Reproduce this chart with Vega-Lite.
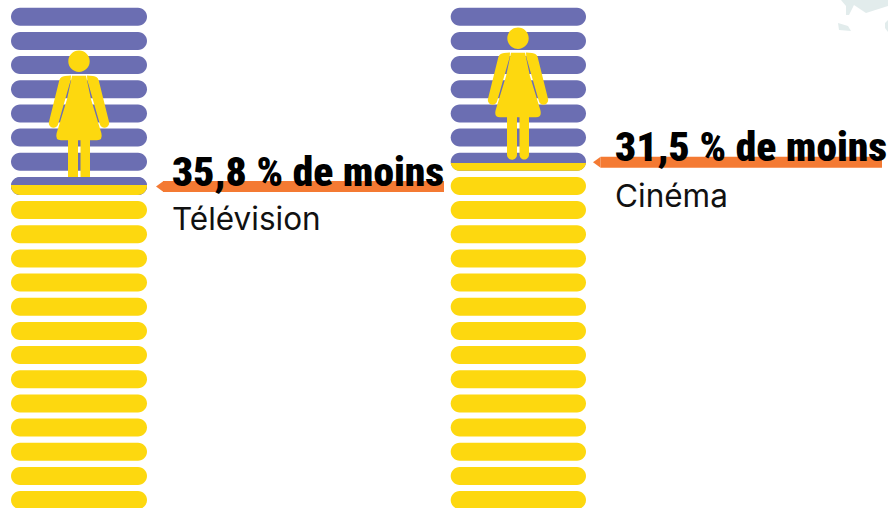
{"$schema":"https://vega.github.io/schema/vega-lite/v6.json","width":888,"height":508,"autosize":"none","padding":0,"background":"white","config":{"view":{"stroke":null}},
"datasets":{"stripes":[
{"media":"Télévision","rang":0,"left":11,"right":147,"top":7.7,"bottom":25.7,"tone":"violet"},{"media":"Télévision","rang":1,"left":11,"right":147,"top":31.9,"bottom":49.9,"tone":"violet"},{"media":"Télévision","rang":2,"left":11,"right":147,"top":56,"bottom":74,"tone":"violet"},{"media":"Télévision","rang":3,"left":11,"right":147,"top":80.2,"bottom":98.2,"tone":"violet"},{"media":"Télévision","rang":4,"left":11,"right":147,"top":104.4,"bottom":122.4,"tone":"violet"},{"media":"Télévision","rang":5,"left":11,"right":147,"top":128.6,"bottom":146.6,"tone":"violet"},{"media":"Télévision","rang":6,"left":11,"right":147,"top":152.7,"bottom":170.7,"tone":"violet"},{"media":"Télévision","rang":7,"left":11,"right":147,"top":176.9,"bottom":194.9,"tone":"violet"},{"media":"Télévision","rang":8,"left":11,"right":147,"top":201.1,"bottom":219.1,"tone":"jaune"},{"media":"Télévision","rang":9,"left":11,"right":147,"top":225.2,"bottom":243.2,"tone":"jaune"},{"media":"Télévision","rang":10,"left":11,"right":147,"top":249.4,"bottom":267.4,"tone":"jaune"},{"media":"Télévision","rang":11,"left":11,"right":147,"top":273.6,"bottom":291.6,"tone":"jaune"},{"media":"Télévision","rang":12,"left":11,"right":147,"top":297.7,"bottom":315.7,"tone":"jaune"},{"media":"Télévision","rang":13,"left":11,"right":147,"top":321.9,"bottom":339.9,"tone":"jaune"},{"media":"Télévision","rang":14,"left":11,"right":147,"top":346.1,"bottom":364.1,"tone":"jaune"},{"media":"Télévision","rang":15,"left":11,"right":147,"top":370.3,"bottom":388.3,"tone":"jaune"},{"media":"Télévision","rang":16,"left":11,"right":147,"top":394.4,"bottom":412.4,"tone":"jaune"},{"media":"Télévision","rang":17,"left":11,"right":147,"top":418.6,"bottom":436.6,"tone":"jaune"},{"media":"Télévision","rang":18,"left":11,"right":147,"top":442.8,"bottom":460.8,"tone":"jaune"},{"media":"Télévision","rang":19,"left":11,"right":147,"top":466.9,"bottom":484.9,"tone":"jaune"},{"media":"Télévision","rang":20,"left":11,"right":147,"top":491.1,"bottom":509.1,"tone":"jaune"},
{"media":"Cinéma","rang":0,"left":450.7,"right":586,"top":7.7,"bottom":25.7,"tone":"violet"},{"media":"Cinéma","rang":1,"left":450.7,"right":586,"top":31.9,"bottom":49.9,"tone":"violet"},{"media":"Cinéma","rang":2,"left":450.7,"right":586,"top":56,"bottom":74,"tone":"violet"},{"media":"Cinéma","rang":3,"left":450.7,"right":586,"top":80.2,"bottom":98.2,"tone":"violet"},{"media":"Cinéma","rang":4,"left":450.7,"right":586,"top":104.4,"bottom":122.4,"tone":"violet"},{"media":"Cinéma","rang":5,"left":450.7,"right":586,"top":128.6,"bottom":146.6,"tone":"violet"},{"media":"Cinéma","rang":6,"left":450.7,"right":586,"top":152.7,"bottom":170.7,"tone":"violet"},{"media":"Cinéma","rang":7,"left":450.7,"right":586,"top":176.9,"bottom":194.9,"tone":"jaune"},{"media":"Cinéma","rang":8,"left":450.7,"right":586,"top":201.1,"bottom":219.1,"tone":"jaune"},{"media":"Cinéma","rang":9,"left":450.7,"right":586,"top":225.2,"bottom":243.2,"tone":"jaune"},{"media":"Cinéma","rang":10,"left":450.7,"right":586,"top":249.4,"bottom":267.4,"tone":"jaune"},{"media":"Cinéma","rang":11,"left":450.7,"right":586,"top":273.6,"bottom":291.6,"tone":"jaune"},{"media":"Cinéma","rang":12,"left":450.7,"right":586,"top":297.7,"bottom":315.7,"tone":"jaune"},{"media":"Cinéma","rang":13,"left":450.7,"right":586,"top":321.9,"bottom":339.9,"tone":"jaune"},{"media":"Cinéma","rang":14,"left":450.7,"right":586,"top":346.1,"bottom":364.1,"tone":"jaune"},{"media":"Cinéma","rang":15,"left":450.7,"right":586,"top":370.3,"bottom":388.3,"tone":"jaune"},{"media":"Cinéma","rang":16,"left":450.7,"right":586,"top":394.4,"bottom":412.4,"tone":"jaune"},{"media":"Cinéma","rang":17,"left":450.7,"right":586,"top":418.6,"bottom":436.6,"tone":"jaune"},{"media":"Cinéma","rang":18,"left":450.7,"right":586,"top":442.8,"bottom":460.8,"tone":"jaune"},{"media":"Cinéma","rang":19,"left":450.7,"right":586,"top":466.9,"bottom":484.9,"tone":"jaune"},{"media":"Cinéma","rang":20,"left":450.7,"right":586,"top":491.1,"bottom":509.1,"tone":"jaune"}],
"people":[{"media":"Télévision","cx":79,"cy":61.3},{"media":"Cinéma","cx":518,"cy":38.3}],
"media":[{"media":"Télévision","label":"35,8 % de moins","tipx":156,"basex":163,"endx":444,"bandtop":181,"bandbottom":192,"mid":186.5,"textx":172,"bigy":186,"smally":230},{"media":"Cinéma","label":"31,5 % de moins","tipx":593,"basex":600.7,"endx":882,"bandtop":156.7,"bandbottom":167.7,"mid":162.2,"textx":615,"bigy":160.7,"smally":206.7}]},
"layer":[
{"data":{"values":[{"px":828,"py":0}]},"mark":{"type":"point","filled":true,"clip":true,"size":4,"opacity":1,"color":"#E2ECEC","shape":"M13,0 L18,6 L18,15 L21,15 L26,5 L38,13 L60,6 L60,0 Z M10,23 L20,26 L23,31 L11,30 Z M57,23 L60,20 L60,32 L57,28 Z"},"encoding":{"x":{"field":"px","type":"quantitative","scale":{"domain":[0,888],"nice":false,"zero":false},"axis":null},"y":{"field":"py","type":"quantitative","scale":{"domain":[0,508],"nice":false,"zero":false,"reverse":true},"axis":null}}},
{"data":{"name":"stripes"},"mark":{"type":"rect","cornerRadius":9},"encoding":{"x":{"field":"left","type":"quantitative","axis":null},"x2":{"field":"right"},"y":{"field":"top","type":"quantitative","axis":null},"y2":{"field":"bottom"},"color":{"field":"tone","type":"nominal","scale":{"domain":["violet","jaune"],"range":["#6B6EB2","#FDD80F"]},"legend":null}}},
{"data":{"name":"people"},"mark":{"type":"point","filled":true,"size":4,"opacity":1,"color":"#FDD80F","shape":"M-10.7,0 A10.7,10.7 0 1 1 10.7,0 A10.7,10.7 0 1 1 -10.7,0 Z M-7,14.4 L7,14.4 L12,38 L22.4,72 Q24,79 18,79 L11,79 L11,116.5 A4.75,4.75 0 0 1 1.5,116.5 L1.5,79 L-1,79 L-1,116.5 A5,5 0 0 1 -11,116.5 L-11,79 L-18,79 Q-24,79 -22.4,72 L-12,38 Z M-8.3,18.7 L-20.9,63 A4.7,4.7 0 0 1 -30,60.5 L-19.7,19 Q-18.5,15 -14,14.6 L-8,14.3 Z M8.3,18.7 L20.9,63 A4.7,4.7 0 0 0 30,60.5 L19.7,19 Q18.5,15 14,14.6 L8,14.3 Z"},"encoding":{"x":{"field":"cx","type":"quantitative","axis":null},"y":{"field":"cy","type":"quantitative","axis":null}}},
{"data":{"name":"stripes"},"transform":[{"filter":"datum.media==='Télévision' && datum.rang===7"}],"mark":{"type":"rect","cornerRadius":9,"color":"#6B6EB2"},"encoding":{"x":{"field":"left","type":"quantitative","axis":null},"x2":{"field":"right"},"y":{"field":"top","type":"quantitative","axis":null},"y2":{"field":"bottom"}}},
{"data":{"values":[{"media":"Télévision","cx":79,"split":185}]},"mark":{"type":"point","filled":true,"size":4,"opacity":1,"color":"#FDD80F","shape":"M-68,0 L68,0 L68,1 A9,9 0 0 1 59,10 L-59,10 A9,9 0 0 1 -68,1 Z"},"encoding":{"x":{"field":"cx","type":"quantitative","axis":null},"y":{"field":"split","type":"quantitative","axis":null}}},
{"data":{"values":[{"media":"Cinéma","cx":518.35,"split":162.9}]},"mark":{"type":"point","filled":true,"size":4,"opacity":1,"color":"#FDD80F","shape":"M-67.65,0 L67.65,0 A9,9 0 0 1 58.65,7.8 L-58.65,7.8 A9,9 0 0 1 -67.65,0 Z"},"encoding":{"x":{"field":"cx","type":"quantitative","axis":null},"y":{"field":"split","type":"quantitative","axis":null}}},
{"data":{"name":"media"},"mark":{"type":"rect","color":"#F47A33"},"encoding":{"x":{"field":"basex","type":"quantitative","axis":null},"x2":{"field":"endx"},"y":{"field":"bandtop","type":"quantitative","axis":null},"y2":{"field":"bandbottom"}}},
{"data":{"name":"media"},"mark":{"type":"point","filled":true,"size":4,"opacity":1,"color":"#F47A33","shape":"M0,0 L7.6,-5.5 L7.6,5.5 Z"},"encoding":{"x":{"field":"tipx","type":"quantitative","axis":null},"y":{"field":"mid","type":"quantitative","axis":null}}},
{"data":{"name":"media"},"mark":{"type":"text","align":"left","baseline":"alphabetic","font":"Roboto Condensed","fontWeight":900,"fontSize":41.5,"color":"#000000"},"encoding":{"x":{"field":"textx","type":"quantitative","axis":null},"y":{"field":"bigy","type":"quantitative","axis":null},"text":{"field":"label"}}},
{"data":{"name":"media"},"mark":{"type":"text","align":"left","baseline":"alphabetic","font":"Inter","fontWeight":"normal","fontSize":31.5,"color":"#111111"},"encoding":{"x":{"field":"textx","type":"quantitative","axis":null},"y":{"field":"smally","type":"quantitative","axis":null},"text":{"field":"media"}}}
]}
